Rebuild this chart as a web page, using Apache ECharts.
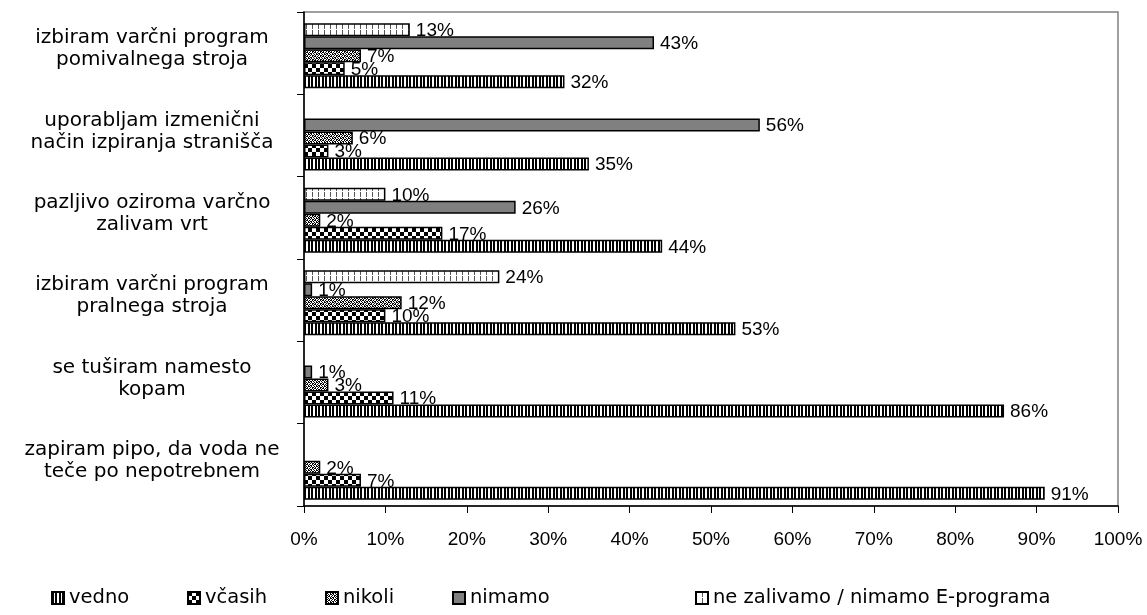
<!DOCTYPE html>
<html><head><meta charset="utf-8">
<script src="https://cdn.jsdelivr.net/npm/echarts@6/dist/echarts.min.js"></script>
<style>html,body{margin:0;padding:0;background:#fff}#c{width:1147px;height:615px}</style>
</head><body><div id="c"></div>
<script>
// Categories (bottom to top)
const categories = [
  'zapiram pipo, da voda ne\nteče po nepotrebnem',
  'se tuširam namesto\nkopam',
  'izbiram varčni program\npralnega stroja',
  'pazljivo oziroma varčno\nzalivam vrt',
  'uporabljam izmenični\nnačin izpiranja stranišča',
  'izbiram varčni program\npomivalnega stroja'
];
const seriesNames = ['vedno', 'včasih', 'nikoli', 'nimamo', 'ne zalivamo / nimamo E-programa'];
const vedno      = [91, 86, 53, 44, 35, 32];
const vcasih     = [7, 11, 10, 17, 3, 5];
const nikoli     = [2, 3, 12, 2, 6, 7];
const nimamo     = [null, 1, 1, 26, 56, 43];
const neZalivamo = [null, null, 24, 10, null, 13];
const xTicks = [0, 10, 20, 30, 40, 50, 60, 70, 80, 90, 100];

function tile(w, h, rows, fg, bg) {
  const c = document.createElement('canvas'); c.width = w; c.height = h;
  const g = c.getContext('2d'); g.fillStyle = bg; g.fillRect(0, 0, w, h);
  g.fillStyle = fg;
  for (let y = 0; y < h; y++) for (let x = 0; x < w; x++) if (rows[y][x] === '1') g.fillRect(x, y, 1, 1);
  return { image: c, repeat: 'repeat' };
}
const patVedno = tile(7, 1, ['1101100'], '#000', '#fff');
const patVcasih = tile(8, 8, ['11110000','11110000','11110000','11110000','00001111','00001111','00001111','00001111'], '#000', '#fff');
const patNikoli = tile(8, 4, ['10110100','01001011','00101101','11010010'], '#000', '#fff');
const patNeZal = tile(6, 6, ['100000','100000','100000','100000','100000','000000'], '#555', '#fff');
const fills = [patVedno, patVcasih, patNikoli, '#808080', patNeZal];
const dataSets = [vedno, vcasih, nikoli, nimamo, neZalivamo];

const chart = echarts.init(document.getElementById('c'), null, { renderer: 'canvas' });
const labelStyle = { show: true, position: 'right', distance: 6, offset: [0, 1], formatter: '{c}%', color: '#000',
                     fontFamily: 'Liberation Sans, Arial', fontSize: 19 };
// spacer series (no data) first so the group sits like the reference; then top-to-bottom order
const series = [{ name: 'spacer', type: 'bar', data: categories.map(() => '-'), barWidth: 5, barGap: '0%', silent: true }];
for (let i = dataSets.length - 1; i >= 0; i--) {
  series.push({
    name: seriesNames[i],
    type: 'bar',
    data: dataSets[i].map(v => v === null ? '-' : v),
    barWidth: 13,
    barGap: '0%',
    z: 10 - i,
    itemStyle: { color: fills[i], borderColor: '#000', borderWidth: 1.5 },
    label: labelStyle,
    emphasis: { disabled: true }
  });
}
const legendLefts = [46, 182, 320, 447, 690];
const legends = seriesNames.map((n, i) => ({
  data: [n], left: legendLefts[i], top: 583, itemWidth: 12, itemHeight: 12, itemGap: 6, icon: 'rect',
  textStyle: { fontFamily: 'DejaVu Sans', fontSize: 19.5, color: '#000' },
  selectedMode: false
}));
chart.setOption({
  animation: false,
  backgroundColor: '#fff',
  grid: { left: 304, right: 29, top: 12, bottom: 109, show: true, borderColor: '#808080', borderWidth: 1.5 },
  legend: legends,
  xAxis: {
    type: 'value', min: xTicks[0], max: xTicks[xTicks.length - 1], interval: 10,
    axisLine: { show: true, lineStyle: { color: '#000', width: 1.5 } },
    axisTick: { show: true, length: 7, lineStyle: { color: '#000' } },
    splitLine: { show: false },
    axisLabel: { formatter: '{value}%', color: '#000', fontFamily: 'Liberation Sans, Arial', fontSize: 19, margin: 24 }
  },
  yAxis: {
    type: 'category', data: categories,
    axisLine: { show: true, lineStyle: { color: '#000', width: 1.5 } },
    axisTick: { show: true, length: 7, lineStyle: { color: '#000' } },
    axisLabel: {
      align: 'center', margin: 152,
      formatter: v => v.split('\n').map(s => '{a|' + s + '}').join('\n') + '\n{s|}',
      rich: {
        a: { color: '#000', fontFamily: 'DejaVu Sans', fontSize: 20, lineHeight: 22, align: 'center' },
        s: { fontSize: 1, lineHeight: 8 }
      }
    }
  },
  series: series
});
</script></body></html>
